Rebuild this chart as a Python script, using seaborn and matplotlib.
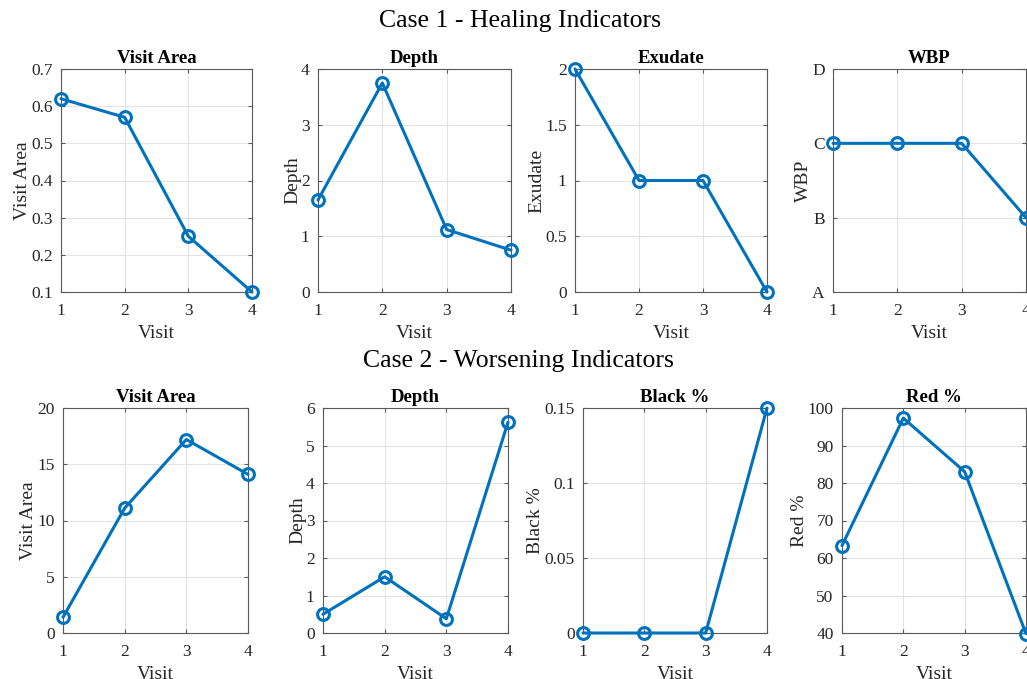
import matplotlib
matplotlib.use("Agg")
import matplotlib.pyplot as plt
import seaborn as sns
import numpy as np

# ---- data ----
visits = [1, 2, 3, 4]
c1_area = [0.62, 0.57, 0.25, 0.10]
c1_depth = [1.65, 3.75, 1.12, 0.75]
c1_exudate = [2, 1, 1, 0]
c1_wbp = [3, 3, 3, 2]          # A=1, B=2, C=3, D=4
wbp_labels = ["A", "B", "C", "D"]
c2_area = [1.4, 11.1, 17.2, 14.1]
c2_depth = [0.5, 1.5, 0.38, 5.62]
c2_black = [0.0, 0.0, 0.0, 0.15]
c2_red = [63.3, 97.3, 83.0, 39.8]

sns.set_style("white")
plt.rcParams['font.family'] = ['Liberation Serif', 'DejaVu Serif']

W, H = 1027, 679
fig = plt.figure(figsize=(W / 100, H / 100), dpi=100)

BLUE = "#0072BD"
TXT = "#262626"

def make_ax(x0, x1, y0, y1):
    return fig.add_axes([x0 / W, 1 - y1 / H, (x1 - x0) / W, (y1 - y0) / H])

panels = [
    (61, 252, 69, 292, c1_area, "Visit Area", "Visit Area", (0.1, 0.7),
     [0.1, 0.2, 0.3, 0.4, 0.5, 0.6, 0.7], ["0.1", "0.2", "0.3", "0.4", "0.5", "0.6", "0.7"]),
    (318, 511, 69, 292, c1_depth, "Depth", "Depth", (0, 4),
     [0, 1, 2, 3, 4], ["0", "1", "2", "3", "4"]),
    (575, 767, 69, 292, c1_exudate, "Exudate", "Exudate", (0, 2),
     [0, 0.5, 1, 1.5, 2], ["0", "0.5", "1", "1.5", "2"]),
    (833, 1026, 69, 292, c1_wbp, "WBP", "WBP", (1, 4),
     [1, 2, 3, 4], wbp_labels),
    (63, 248, 408, 633, c2_area, "Visit Area", "Visit Area", (0, 20),
     [0, 5, 10, 15, 20], ["0", "5", "10", "15", "20"]),
    (323, 508, 408, 633, c2_depth, "Depth", "Depth", (0, 6),
     [0, 1, 2, 3, 4, 5, 6], ["0", "1", "2", "3", "4", "5", "6"]),
    (583, 767, 408, 633, c2_black, "Black %", "Black %", (0, 0.15),
     [0, 0.05, 0.1, 0.15], ["0", "0.05", "0.1", "0.15"]),
    (842, 1026, 408, 633, c2_red, "Red %", "Red %", (40, 100),
     [40, 50, 60, 70, 80, 90, 100], ["40", "50", "60", "70", "80", "90", "100"]),
]

for (x0, x1, y0, y1, vals, title, ylab, ylim, yt, ytl) in panels:
    ax = make_ax(x0, x1, y0, y1)
    sns.lineplot(x=visits, y=vals, ax=ax, color=BLUE, linewidth=2.2,
                 marker="o", markersize=8.5, markerfacecolor="none",
                 markeredgecolor=BLUE, markeredgewidth=2.2, clip_on=False,
                 zorder=5)
    ax.set_xlim(1, 4)
    ax.set_ylim(*ylim)
    ax.set_xticks(visits)
    ax.set_xticklabels([str(v) for v in visits])
    ax.set_yticks(yt)
    ax.set_yticklabels(ytl)
    ax.grid(True, color="#e3e3e3", linewidth=0.8)
    ax.set_axisbelow(True)
    for s in ax.spines.values():
        s.set_visible(True)
        s.set_color("#5a5a5a")
        s.set_linewidth(0.8)
    ax.tick_params(axis="both", direction="in", length=3, width=0.8,
                   colors="#5a5a5a", labelcolor=TXT, labelsize=12.5,
                   top=True, right=True, left=True, bottom=True)
    ax.tick_params(axis="x", pad=8)
    ax.tick_params(axis="y", pad=6)
    ax.set_title(title, fontsize=13.5, fontweight="bold", color="black", pad=4)
    ax.set_xlabel("Visit", fontsize=14, color=TXT, labelpad=4)
    ax.set_ylabel(ylab, fontsize=14, color=TXT, labelpad=0)

fig.text(520 / W, 1 - 21 / H, "Case 1 - Healing Indicators", ha="center",
         va="center", fontsize=18.5, color="black")
fig.text(518 / W, 1 - 361 / H, "Case 2 - Worsening Indicators", ha="center",
         va="center", fontsize=18.5, color="black")

fig.savefig("out.png", dpi=100)
